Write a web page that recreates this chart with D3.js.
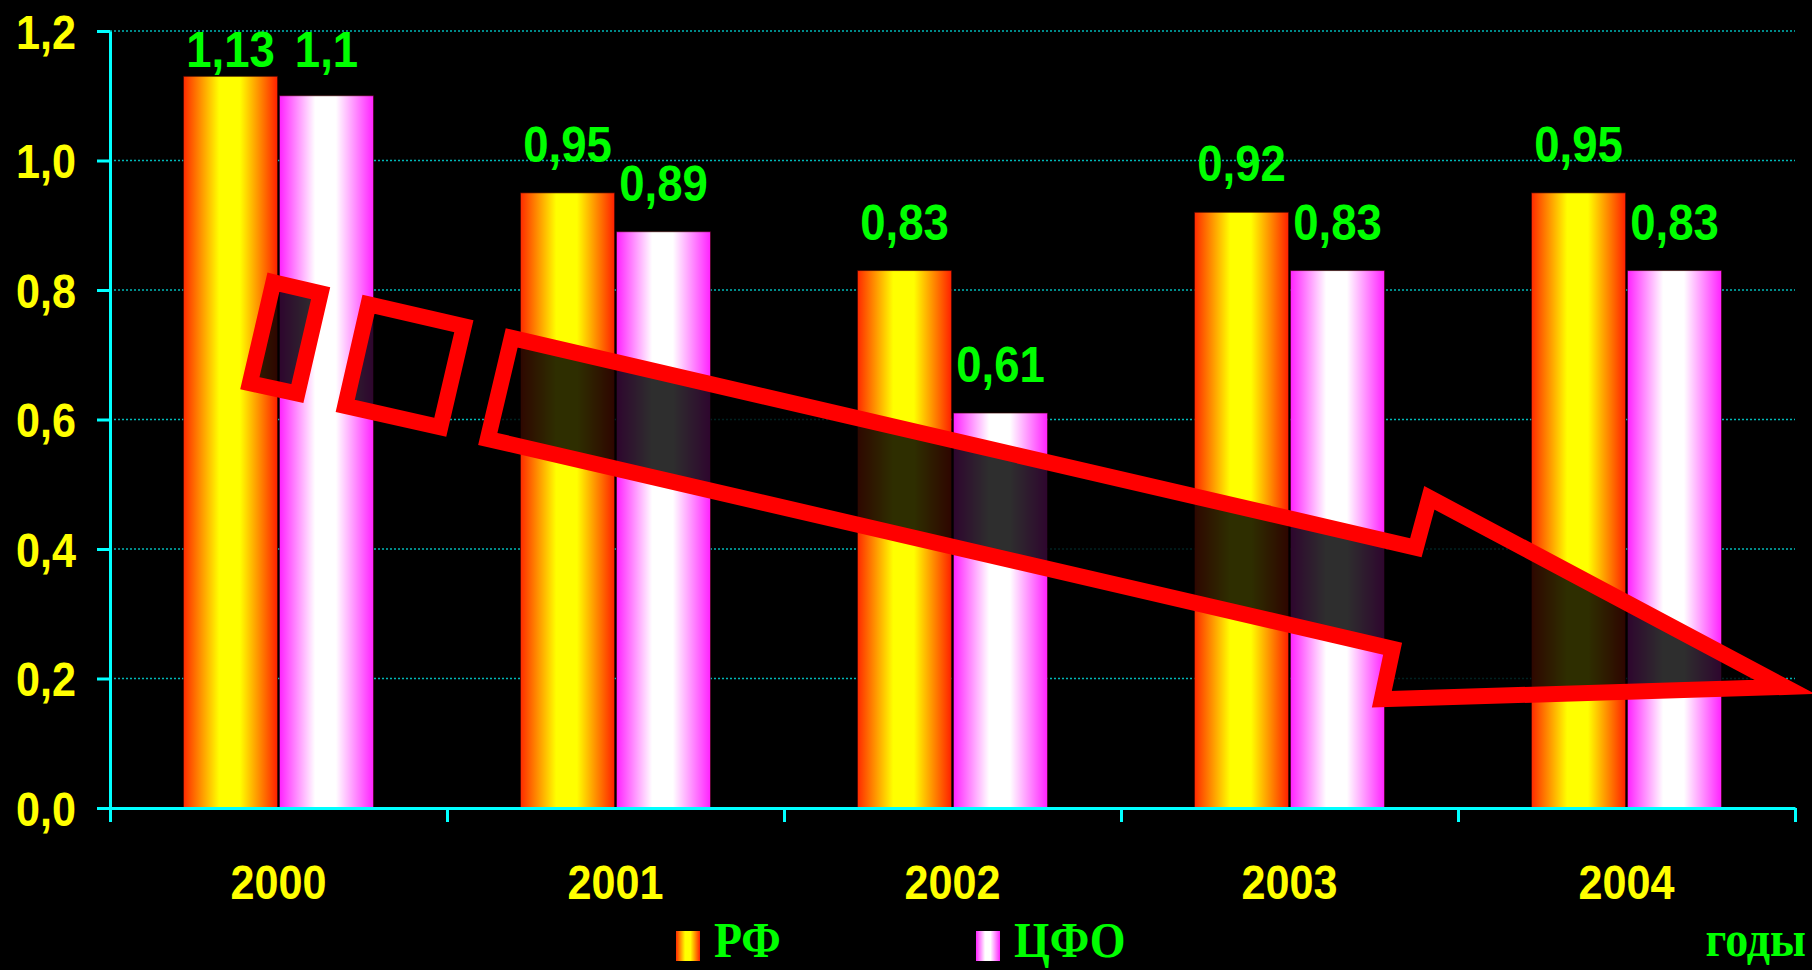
<!DOCTYPE html>
<html>
<head>
<meta charset="utf-8">
<script src="https://cdn.jsdelivr.net/npm/d3@7/dist/d3.min.js"></script>
<style>
  html, body { margin: 0; padding: 0; background: #000; }
  svg { display: block; }
</style>
</head>
<body>
<svg id="chart" width="1812" height="970"></svg>
<script>
// ---------- data ----------
const years = ['2000', '2001', '2002', '2003', '2004'];
const seriesNames = ['РФ', 'ЦФО'];
const rfValues = [1.13, 0.95, 0.83, 0.92, 0.95];
const cfoValues = [1.1, 0.89, 0.61, 0.83, 0.83];
const yTickValues = [0, 0.2, 0.4, 0.6, 0.8, 1.0, 1.2];
const yTickLabels = ['0,0', '0,2', '0,4', '0,6', '0,8', '1,0', '1,2'];
const axisUnitLabel = 'годы';
// trend arrow annotation, in data units: [category position (0..5), value]
const trendSquare1 = [[0.485, 0.812], [0.625, 0.795], [0.556, 0.640], [0.415, 0.656]];
const trendSquare2 = [[0.767, 0.778], [1.050, 0.744], [0.980, 0.588], [0.698, 0.621]];
const trendArrow = [[1.192, 0.726], [3.875, 0.402], [3.915, 0.479], [4.970, 0.187],
                    [3.774, 0.168], [3.806, 0.246], [1.121, 0.570]];

// ---------- layout ----------
const svg = d3.select('#chart');
const plotLeft = 110, plotRight = 1795, plotTop = 31, plotBottom = 808;
const SX = 0.88;   // horizontal squeeze of the original slide text
const SXV = 0.91;  // squeeze of value labels

const x = d3.scaleBand().domain(years).range([plotLeft, plotRight]).paddingInner(0).paddingOuter(0);
const xPos = d3.scaleLinear().domain([0, years.length]).range([plotLeft, plotRight]);
const groupW = 190;
const xSub = d3.scaleBand().domain(seriesNames)
  .range([(x.bandwidth() - groupW) / 2, (x.bandwidth() + groupW) / 2]).paddingInner(0.02);
const y = d3.scaleLinear().domain([0, 1.2]).range([plotBottom, plotTop]);

const fmt = v => String(v).replace('.', ',');

// ---------- gradients ----------
const defs = svg.append('defs');
function hGrad(id, edgeL, mid, edgeR) {
  const g = defs.append('linearGradient').attr('id', id)
    .attr('x1', '0%').attr('x2', '100%').attr('y1', '0%').attr('y2', '0%');
  g.append('stop').attr('offset', '0%').attr('stop-color', edgeL);
  g.append('stop').attr('offset', '38%').attr('stop-color', mid);
  g.append('stop').attr('offset', '60%').attr('stop-color', mid);
  g.append('stop').attr('offset', '100%').attr('stop-color', edgeR);
}
hGrad('gRF', '#ff2a00', '#ffff00', '#ff2000');
hGrad('gCFO', '#ff22ff', '#ffffff', '#ff22ff');
const fills = { 'РФ': 'url(#gRF)', 'ЦФО': 'url(#gCFO)' };

// ---------- gridlines ----------
svg.append('g').selectAll('line').data(yTickValues.filter(v => v > 0)).join('line')
  .attr('x1', plotLeft).attr('x2', plotRight)
  .attr('y1', d => y(d)).attr('y2', d => y(d))
  .attr('stroke', '#00b8b8').attr('stroke-width', 1.5).attr('stroke-dasharray', '2,2');

// ---------- bars ----------
const rows = years.map((yr, i) => ({ year: yr, vals: [
  { s: 'РФ', v: rfValues[i] }, { s: 'ЦФО', v: cfoValues[i] }] }));

const groups = svg.append('g').selectAll('g').data(rows).join('g')
  .attr('transform', d => `translate(${x(d.year)},0)`);
groups.selectAll('rect').data(d => d.vals).join('rect')
  .attr('x', d => xSub(d.s)).attr('width', xSub.bandwidth())
  .attr('y', d => y(d.v)).attr('height', d => y(0) - y(d.v))
  .attr('fill', d => fills[d.s])
  .attr('stroke', 'rgba(60,0,0,0.6)').attr('stroke-width', 1);

// ---------- trend arrow ----------
const arrowLine = d3.line().x(p => xPos(p[0])).y(p => y(p[1])).curve(d3.curveLinearClosed);
svg.append('g').selectAll('path').data([trendSquare1, trendSquare2, trendArrow]).join('path')
  .attr('d', arrowLine)
  .attr('fill', 'rgba(0,0,0,0.82)')
  .attr('stroke', '#ff0000').attr('stroke-width', 16)
  .attr('stroke-linejoin', 'miter').attr('stroke-miterlimit', 10);

// ---------- value labels ----------
groups.selectAll('text.val').data(d => d.vals).join('text')
  .attr('class', 'val')
  .attr('transform', d => `translate(${xSub(d.s) + xSub.bandwidth() / 2},${Math.max(y(d.v) - 31, 67)}) scale(${SXV},1)`)
  .attr('text-anchor', 'middle')
  .attr('font-family', 'Liberation Sans, Arial, sans-serif')
  .attr('font-weight', 'bold').attr('font-size', 50)
  .attr('fill', '#00ff00')
  .text(d => fmt(d.v));

// ---------- axes ----------
const axisColor = '#00ffff';
const yAxisG = svg.append('g').attr('transform', `translate(${plotLeft},0)`)
  .call(d3.axisLeft(y).tickValues(yTickValues).tickSize(13).tickSizeOuter(0)
    .tickFormat((d, i) => yTickLabels[i]));
yAxisG.select('.domain').attr('stroke', axisColor).attr('stroke-width', 3);
yAxisG.selectAll('.tick line').attr('stroke', axisColor).attr('stroke-width', 3);
yAxisG.selectAll('.tick text')
  .attr('x', -34 / SX).attr('dy', '0.355em')
  .attr('transform', `scale(${SX},1)`)
  .attr('fill', '#ffff00').attr('font-size', 49).attr('font-weight', 'bold')
  .attr('font-family', 'Liberation Sans, Arial, sans-serif');

const xAxisG = svg.append('g').attr('transform', `translate(0,${plotBottom})`)
  .call(d3.axisBottom(xPos).tickValues(d3.range(years.length + 1)).tickSize(14).tickSizeOuter(0).tickFormat(''));
xAxisG.select('.domain').attr('stroke', axisColor).attr('stroke-width', 3);
xAxisG.selectAll('.tick line').attr('stroke', axisColor).attr('stroke-width', 3);

const xLabG = svg.append('g').attr('transform', `translate(0,${plotBottom})`)
  .call(d3.axisBottom(x).tickSize(0));
xLabG.select('.domain').remove();
xLabG.selectAll('.tick text')
  .attr('y', 91).attr('dy', 0)
  .attr('transform', `scale(${SX},1)`)
  .attr('fill', '#ffff00').attr('font-size', 49).attr('font-weight', 'bold')
  .attr('font-family', 'Liberation Sans, Arial, sans-serif');

// ---------- legend ----------
const legendX = [676, 976];
const legend = svg.append('g').selectAll('g').data(seriesNames).join('g')
  .attr('transform', (d, i) => `translate(${legendX[i]},0)`);
legend.append('rect').attr('x', 0).attr('y', 931).attr('width', 24).attr('height', 30)
  .attr('fill', d => fills[d]);
legend.append('text')
  .attr('transform', `translate(38,957) scale(0.92,1)`)
  .attr('font-family', 'Liberation Serif, Times New Roman, serif')
  .attr('font-weight', 'bold').attr('font-size', 50).attr('fill', '#00ff00')
  .text(d => d);

svg.append('text')
  .attr('transform', `translate(1806,956) scale(0.92,1)`)
  .attr('text-anchor', 'end')
  .attr('font-family', 'Liberation Serif, Times New Roman, serif')
  .attr('font-weight', 'bold').attr('font-size', 50).attr('fill', '#00ff00')
  .text(axisUnitLabel);
</script>
</body>
</html>
